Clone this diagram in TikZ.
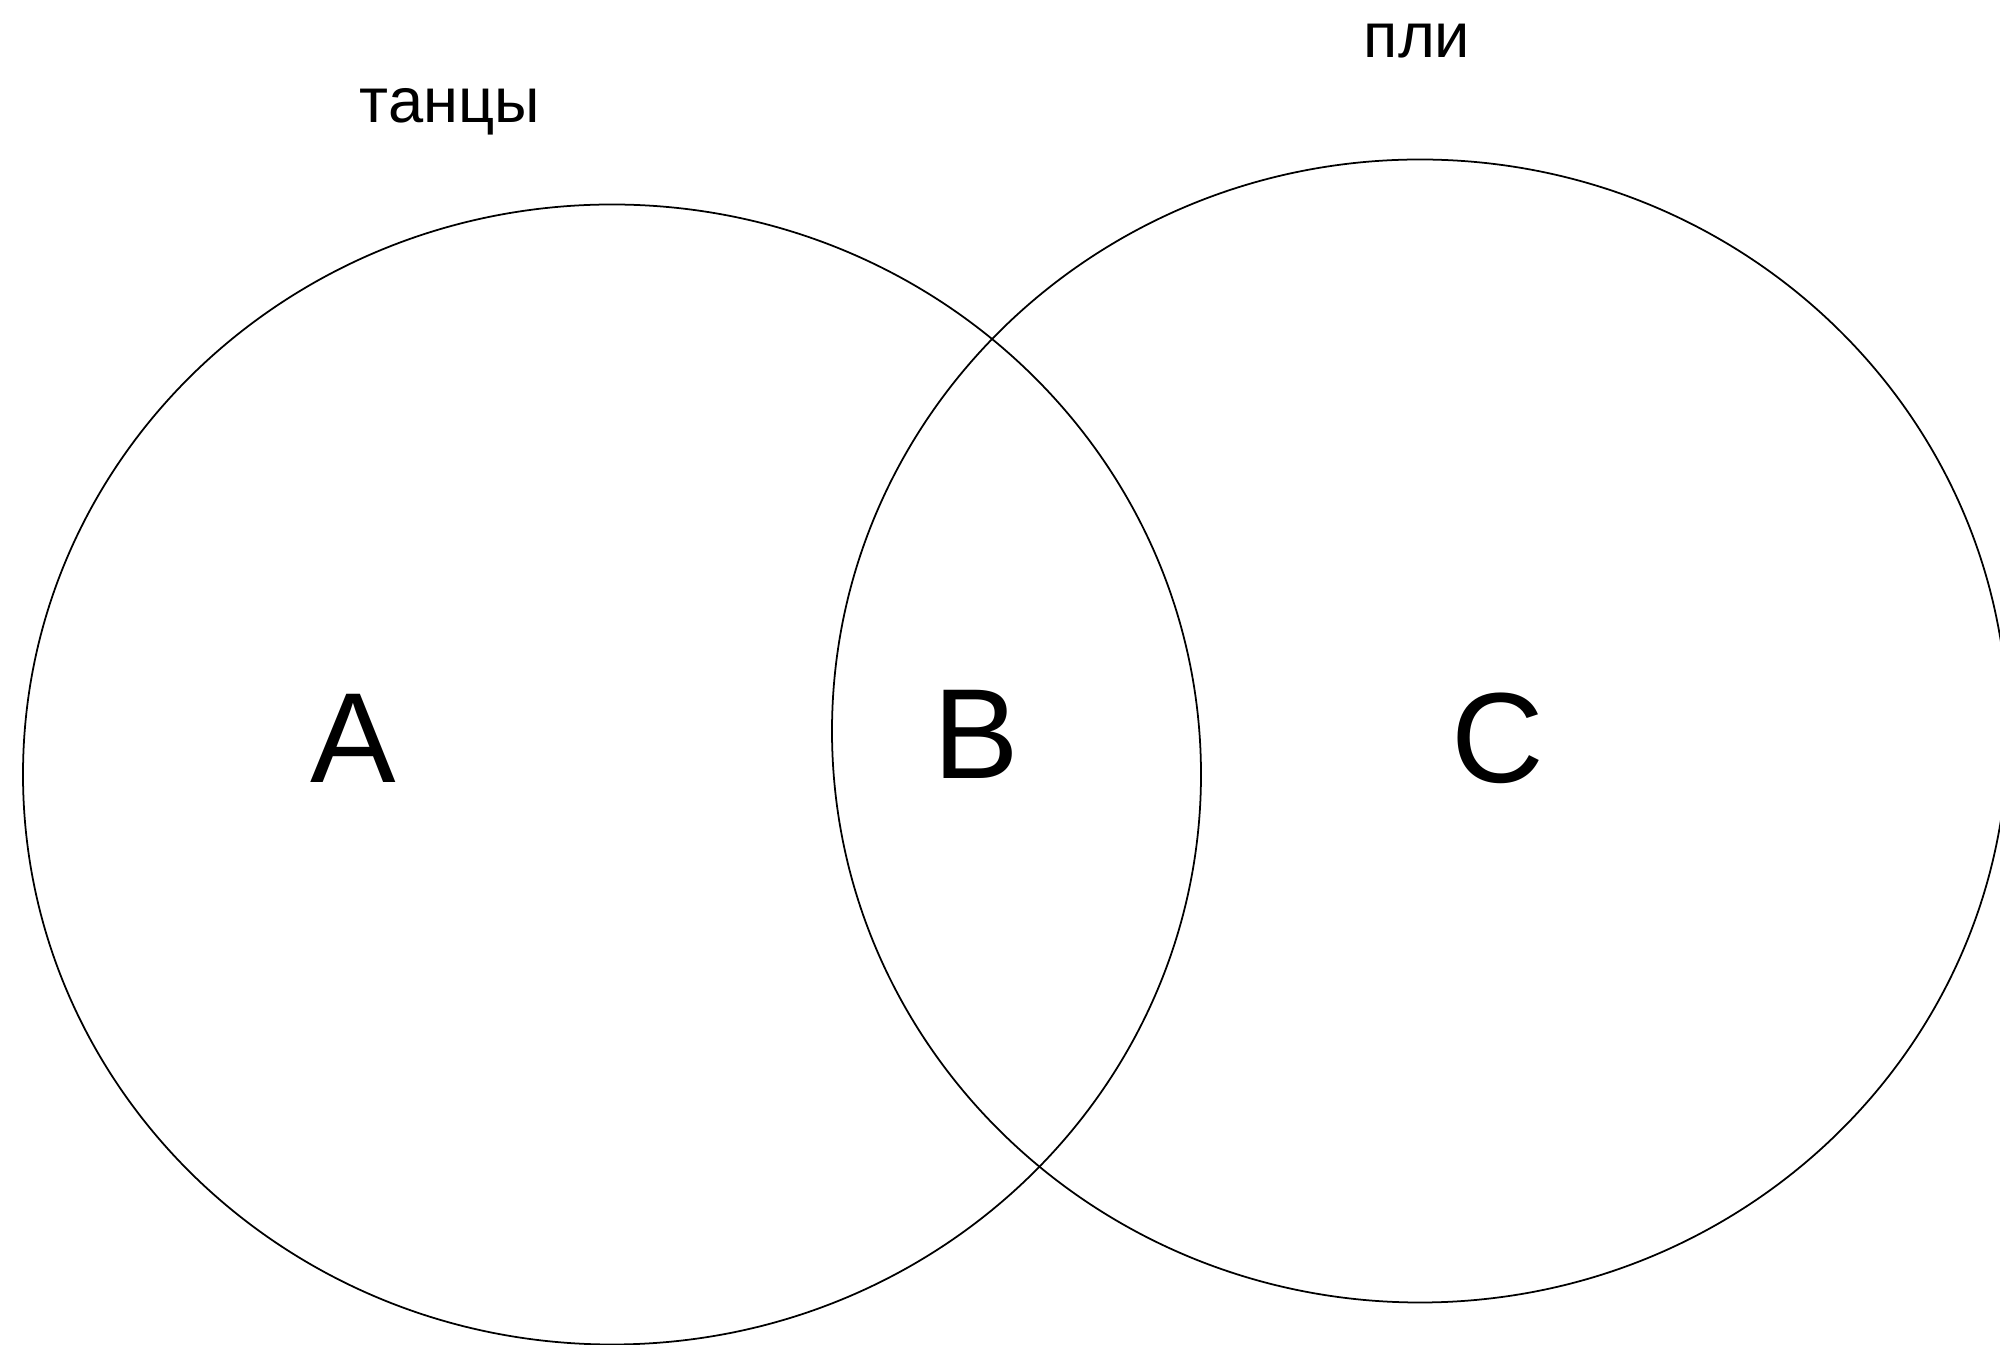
\documentclass[tikz,border=0pt]{standalone}
\usepackage{fontspec}
\setmainfont{Liberation Sans}
\usepackage{tikz}
\usetikzlibrary{positioning}

\begin{document}
\begin{tikzpicture}[set_line/.style={draw=black,line width=0.5pt},set_name/.style={font=\fontsize{18}{22}\selectfont,anchor=base,inner sep=0pt},set_part/.style={font=\fontsize{36.5}{44}\selectfont,anchor=base,inner sep=0pt}]
\useasboundingbox (0,0) rectangle (20,13.45);
\draw[set_line] (6.12,5.705) ellipse [x radius=5.89cm,y radius=5.70cm];
\draw[set_line] (14.20,6.14) ellipse [x radius=5.88cm,y radius=5.715cm];
\node[set_name] (name_left) at (4.50,12.22) {танцы};
\node[set_name] (name_right) at (14.17,12.87) {пли};
\node[set_part] (part_a) at (3.53,5.62) {A};
\node[set_part] (part_b) at (9.76,5.66) {B};
\node[set_part] (part_c) at (14.98,5.62) {C};
\end{tikzpicture}
\end{document}
